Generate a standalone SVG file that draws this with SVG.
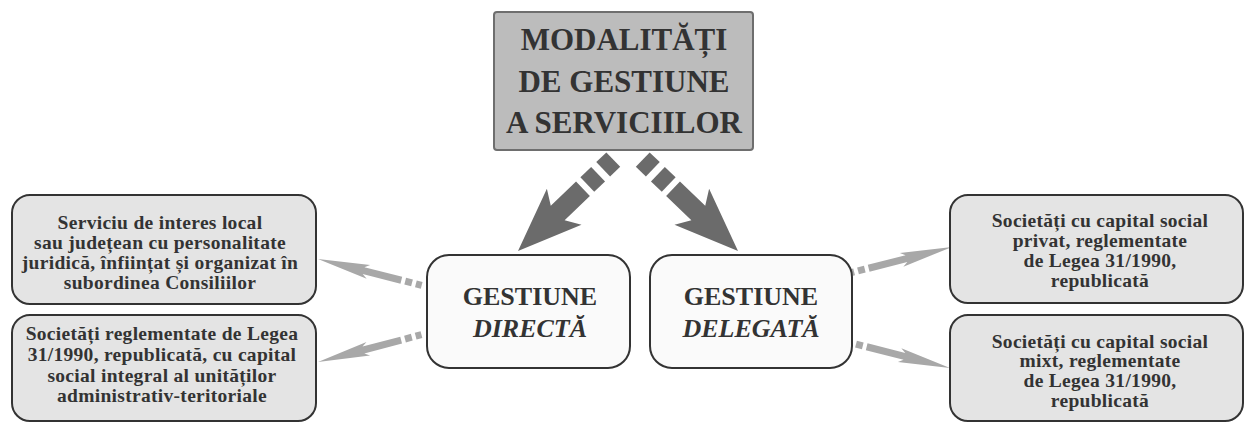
<svg xmlns="http://www.w3.org/2000/svg" width="1245" height="422" viewBox="0 0 1245 422">
<defs>
<style>
.title{font-family:"Liberation Serif","Times New Roman",serif;font-weight:bold;font-size:31px;fill:#333;text-anchor:middle}
.mid{font-family:"Liberation Serif","Times New Roman",serif;font-weight:bold;font-size:26px;fill:#333;text-anchor:middle}
.it{font-style:italic}
.side{font-family:"Liberation Serif","Times New Roman",serif;font-weight:bold;font-size:19.5px;fill:#333;text-anchor:middle;letter-spacing:0.3px}
.sbox{fill:#e4e4e4;stroke:#333;stroke-width:2}
.cbox{fill:#fafafa;stroke:#333;stroke-width:2}
.big{fill:#6b6b6b}
.small{fill:#a8a8a8}
</style>
<g id="bigArrow">
<polygon points="0,0 -64,-25 -55,-10 -90,-10 -90,10 -55,10 -64,25"/>
<rect x="-111" y="-10" width="15" height="20"/>
<rect x="-132" y="-10" width="14" height="20"/>
</g>
<g id="smallArrow">
<polygon points="0,0 -52,-7 -47,-3.5 -86,-3.5 -86,3.5 -47,3.5 -52,7"/>
<rect x="-97" y="-3.5" width="7" height="7"/>
<rect x="-107" y="-3.5" width="6" height="7"/>
</g>
</defs>
<rect width="1245" height="422" fill="#ffffff"/>

<g id="connectors">
<use href="#bigArrow" class="big" transform="translate(518,251) rotate(136.2)"/>
<use href="#bigArrow" class="big" transform="translate(738,251) rotate(43.8)"/>
<use href="#smallArrow" class="small" transform="translate(318,259) rotate(194.3)"/>
<use href="#smallArrow" class="small" transform="translate(318,362) rotate(165.2)"/>
<use href="#smallArrow" class="small" transform="translate(952,247) rotate(-14.3)"/>
<use href="#smallArrow" class="small" transform="translate(950,368) rotate(14.3)"/>
</g>

<g id="title">
<rect x="494" y="12" width="259" height="138" rx="3" fill="#bcbcbc" stroke="#6e6e6e" stroke-width="2"/>
<text class="title" x="624" y="50">MODALITĂȚI</text>
<text class="title" x="624" y="92">DE GESTIUNE</text>
<text class="title" x="624" y="133">A SERVICIILOR</text>
</g>

<g id="directa">
<rect class="cbox" x="427" y="255" width="203" height="113" rx="22"/>
<text class="mid" x="530" y="305">GESTIUNE</text>
<text class="mid it" x="530" y="337">DIRECTĂ</text>
</g>

<g id="delegata">
<rect class="cbox" x="650" y="255" width="202" height="113" rx="22"/>
<text class="mid" x="751" y="305">GESTIUNE</text>
<text class="mid it" x="751" y="337">DELEGATĂ</text>
</g>

<g id="serviciu">
<rect class="sbox" x="12" y="195" width="304" height="109" rx="18"/>
<text class="side" x="160" y="229">Serviciu de interes local</text>
<text class="side" x="160" y="249">sau județean cu personalitate</text>
<text class="side" x="160" y="269">juridică, înființat și organizat în</text>
<text class="side" x="160" y="289">subordinea Consiliilor</text>
</g>

<g id="societati-uat">
<rect class="sbox" x="12" y="315" width="304" height="106" rx="18"/>
<text class="side" x="162" y="340">Societăți reglementate de Legea</text>
<text class="side" x="162" y="361">31/1990, republicată, cu capital</text>
<text class="side" x="162" y="382">social integral al unităților</text>
<text class="side" x="162" y="402">administrativ-teritoriale</text>
</g>

<g id="societati-privat">
<rect class="sbox" x="950" y="195" width="293" height="108" rx="18"/>
<text class="side" x="1100" y="227">Societăți cu capital social</text>
<text class="side" x="1100" y="247">privat, reglementate</text>
<text class="side" x="1100" y="267">de Legea 31/1990,</text>
<text class="side" x="1100" y="287">republicată</text>
</g>

<g id="societati-mixt">
<rect class="sbox" x="950" y="315" width="293" height="106" rx="18"/>
<text class="side" x="1100" y="348">Societăți cu capital social</text>
<text class="side" x="1100" y="367">mixt, reglementate</text>
<text class="side" x="1100" y="387">de Legea 31/1990,</text>
<text class="side" x="1100" y="407">republicată</text>
</g>
</svg>
